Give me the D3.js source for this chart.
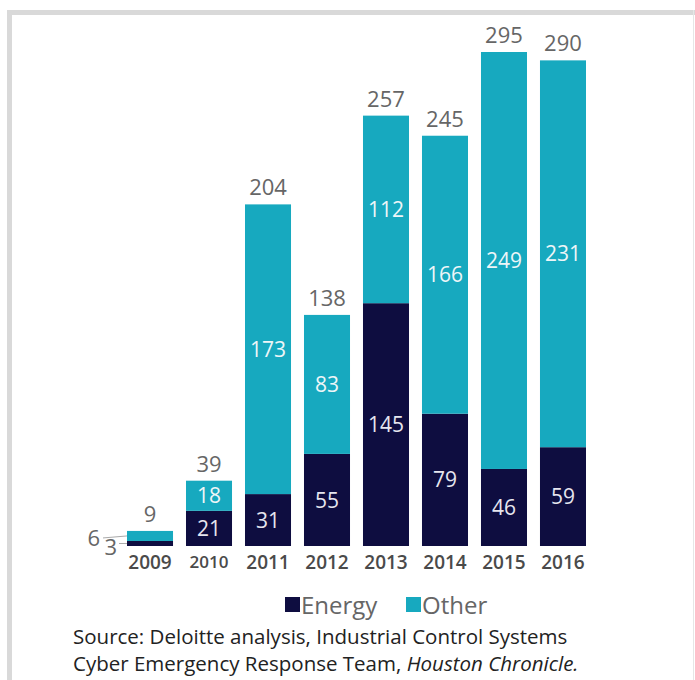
<!DOCTYPE html>
<html>
<head>
<meta charset="utf-8">
<script src="https://cdn.jsdelivr.net/npm/d3@7"></script>
<style>
  body { margin: 0; background: #fff; }
  svg { display: block; font-family: "Open Sans", sans-serif; }
</style>
</head>
<body>
<svg id="chart" width="695" height="680"></svg>
<script>
const years = ["2009", "2010", "2011", "2012", "2013", "2014", "2015", "2016"]
const energy = [3, 21, 31, 55, 145, 79, 46, 59]
const other = [6, 18, 173, 83, 112, 166, 249, 231]
const totals = [9, 39, 204, 138, 257, 245, 295, 290]

const navy = "#0e0d40", teal = "#17a9bf"

const svg = d3.select("#chart")

// gray frame
svg.append("rect").attr("x", 7).attr("y", 10).attr("width", 700).attr("height", 5).attr("fill", "#d9d9d9")
svg.append("rect").attr("x", 7).attr("y", 10).attr("width", 5).attr("height", 680).attr("fill", "#d9d9d9")
svg.append("rect").attr("x", 693).attr("y", 10).attr("width", 1).attr("height", 680).attr("fill", "#e6e6e6")

const x = d3.scaleBand()
    .domain(years)
    .range([127, 586])
    .paddingInner(0.22)
    .paddingOuter(0)

const y = d3.scaleLinear()
    .domain([0, 295])
    .range([546, 52])

const rows = years.map((yr, i) => ({ yr, energy: energy[i], other: other[i], total: totals[i] }))

const g = svg.append("g")

// energy segments
g.selectAll("rect.energy")
    .data(rows)
    .join("rect")
    .attr("class", "energy")
    .attr("x", d => x(d.yr))
    .attr("width", x.bandwidth())
    .attr("y", d => y(d.energy))
    .attr("height", d => y(0) - y(d.energy))
    .attr("fill", navy)

// other segments
g.selectAll("rect.other")
    .data(rows)
    .join("rect")
    .attr("class", "other")
    .attr("x", d => x(d.yr))
    .attr("width", x.bandwidth())
    .attr("y", d => y(d.energy + d.other))
    .attr("height", d => y(d.energy) - y(d.energy + d.other))
    .attr("fill", teal)

const big = rows.slice(1)

// labels inside bars
g.selectAll("text.elab")
    .data(big)
    .join("text")
    .attr("x", d => x(d.yr) + x.bandwidth() / 2)
    .attr("y", d => (y(0) + y(d.energy)) / 2)
    .attr("dy", "0.36em")
    .attr("text-anchor", "middle")
    .attr("font-size", 21)
    .attr("fill", "#e6e6ef")
    .text(d => d.energy)

g.selectAll("text.olab")
    .data(big)
    .join("text")
    .attr("x", d => x(d.yr) + x.bandwidth() / 2)
    .attr("y", d => (y(d.energy) + y(d.energy + d.other)) / 2)
    .attr("dy", "0.36em")
    .attr("text-anchor", "middle")
    .attr("font-size", 21)
    .attr("fill", "#eef6f8")
    .text(d => d.other)

// totals
g.selectAll("text.tot")
    .data(rows)
    .join("text")
    .attr("x", d => x(d.yr) + x.bandwidth() / 2)
    .attr("y", d => y(d.total) - 9)
    .attr("text-anchor", "middle")
    .attr("font-size", 22)
    .attr("fill", "#666")
    .text(d => d.total)

// 2009 callouts
const first = rows[0]
const bx = x(first.yr)
g.append("line")
    .attr("x1", bx - 24).attr("y1", y(first.energy + first.other / 2) + 2)
    .attr("x2", bx).attr("y2", y(first.energy + first.other / 2))
    .attr("stroke", "#aaa").attr("stroke-width", 1)
g.append("text")
    .attr("x", bx - 27).attr("y", y(first.energy + first.other / 2) + 10)
    .attr("text-anchor", "end").attr("font-size", 22).attr("fill", "#666")
    .text(first.other)
g.append("line")
    .attr("x1", bx - 8).attr("y1", y(first.energy / 2))
    .attr("x2", bx).attr("y2", y(first.energy / 2))
    .attr("stroke", "#aaa").attr("stroke-width", 1)
g.append("text")
    .attr("x", bx - 10).attr("y", y(first.energy / 2) + 12)
    .attr("text-anchor", "end").attr("font-size", 22).attr("fill", "#666")
    .text(first.energy)

// year axis
const axis = g.append("g")
    .attr("transform", `translate(0, ${y(0)})`)
    .call(d3.axisBottom(x).tickSize(0).tickPadding(10))
axis.select(".domain").remove()
axis.selectAll("text")
    .attr("font-family", "Open Sans, sans-serif")
    .attr("font-size", d => d === "2010" ? 17 : 19)
    .attr("font-weight", 600)
    .attr("fill", "#4a4a4a")

// legend
const legend = svg.append("g").attr("transform", "translate(285, 605)")
const items = [["Energy", navy], ["Other", teal]]
const li = legend.selectAll("g")
    .data(items)
    .join("g")
    .attr("transform", (d, i) => `translate(${i * 121}, 0)`)
li.append("rect").attr("x", 0).attr("y", -8).attr("width", 15).attr("height", 15).attr("fill", d => d[1])
li.append("text").attr("x", 16).attr("dy", "0.36em").attr("font-size", 24).attr("fill", "#666").text(d => d[0])

// source
const src = svg.append("text").attr("x", 73).attr("font-size", 20.5).attr("fill", "#222")
src.append("tspan").attr("x", 73).attr("y", 644).text("Source: Deloitte analysis, Industrial Control Systems")
const l2 = src.append("tspan").attr("x", 73).attr("y", 671)
l2.append("tspan").text("Cyber Emergency Response Team, ")
l2.append("tspan").attr("font-style", "italic").text("Houston Chronicle.")
</script>
</body>
</html>
